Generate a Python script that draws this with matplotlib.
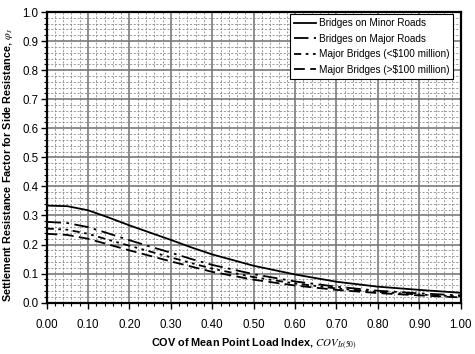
import matplotlib
matplotlib.use("Agg")
import matplotlib.pyplot as plt
from matplotlib.ticker import MultipleLocator, FormatStrFormatter

plt.rcParams["font.family"] = ["Liberation Sans", "DejaVu Sans"]
plt.rcParams["mathtext.fontset"] = "stix"

# COV of mean point load index
cov = [0.00, 0.05, 0.10, 0.15, 0.20, 0.25, 0.30, 0.35, 0.40, 0.50,
       0.60, 0.70, 0.80, 0.90, 1.00]

# resistance factors
minor_roads = [0.334, 0.332, 0.318, 0.293, 0.266, 0.241, 0.216, 0.190, 0.166, 0.127,
               0.097, 0.072, 0.055, 0.044, 0.034]
major_roads = [0.278, 0.274, 0.260, 0.238, 0.215, 0.193, 0.172, 0.150, 0.130, 0.098,
               0.073, 0.055, 0.041, 0.032, 0.025]
major_lt100 = [0.255, 0.251, 0.237, 0.216, 0.196, 0.176, 0.156, 0.136, 0.117, 0.088,
               0.066, 0.049, 0.037, 0.028, 0.021]
major_gt100 = [0.237, 0.233, 0.220, 0.200, 0.180, 0.161, 0.142, 0.124, 0.106, 0.079,
               0.059, 0.044, 0.033, 0.025, 0.018]

labels = ["Bridges on Minor Roads", "Bridges on Major Roads",
          "Major Bridges (<$100 million)", "Major Bridges (>$100 million)"]

fig = plt.figure(figsize=(4.75, 3.54), dpi=100)
ax = fig.add_axes([0.098, 0.145, 0.872, 0.821])

ax.plot(cov, minor_roads, color="black", lw=1.3, ls="-", label=labels[0])
ax.plot(cov, major_roads, color="black", lw=1.3, ls=(0, (8, 3, 1.5, 3)), label=labels[1])
ax.plot(cov, major_lt100, color="black", lw=1.3, ls=(0, (4, 2.5, 1.5, 2.5, 1.5, 2.5)),
        label=labels[2])
ax.plot(cov, major_gt100, color="black", lw=1.3, ls=(0, (6, 3)), label=labels[3])

ax.set_xlim(0, 1)
ax.set_ylim(0, 1)
ax.xaxis.set_major_locator(MultipleLocator(0.1))
ax.xaxis.set_minor_locator(MultipleLocator(0.02))
ax.yaxis.set_major_locator(MultipleLocator(0.1))
ax.yaxis.set_minor_locator(MultipleLocator(0.02))
ax.xaxis.set_major_formatter(FormatStrFormatter("%.2f"))
ax.yaxis.set_major_formatter(FormatStrFormatter("%.1f"))

ax.grid(which="major", color="#7a7a7a", lw=1.2, ls="-")
ax.grid(which="minor", color="#8c8c8c", lw=0.6, ls=(0, (2.5, 2)))
ax.set_axisbelow(True)

for s in ax.spines.values():
    s.set_linewidth(1.6)
ax.tick_params(which="major", direction="out", length=4, width=1.0, labelsize=8.3,
               colors="black", pad=8)
ax.tick_params(which="minor", direction="out", length=2.5, width=0.8)
ax.tick_params(axis="y", pad=2)

ax.set_xlabel(r"COV of Mean Point Load Index, $COV_{Is(50)}$", fontsize=7.8,
              fontweight="bold", labelpad=4)
ax.set_ylabel(r"Settlement Resistance Factor for Side Resistance, $\varphi_s$",
              fontsize=7.8, fontweight="bold")
ax.yaxis.set_label_coords(-0.076, 0.475)

leg = ax.legend(loc="upper right", bbox_to_anchor=(0.982, 0.992), fontsize=7.2,
                frameon=True, fancybox=False, edgecolor="black", framealpha=1,
                handlelength=2.2, handletextpad=0.3, borderpad=0.4, labelspacing=0.55,
                borderaxespad=0)
leg.get_frame().set_linewidth(0.8)

fig.savefig("out.png", dpi=100)
